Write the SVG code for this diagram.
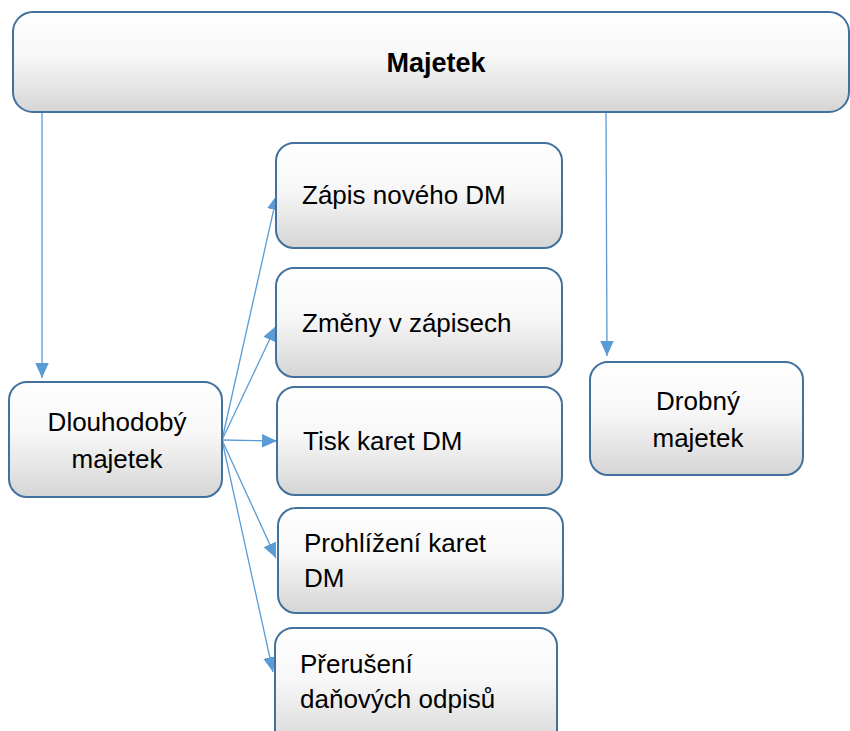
<svg xmlns="http://www.w3.org/2000/svg" width="850" height="731" viewBox="0 0 850 731">
<defs>
<linearGradient id="g" x1="0" y1="0" x2="0" y2="1">
<stop offset="0" stop-color="#ffffff"/>
<stop offset="0.45" stop-color="#f7f7f7"/>
<stop offset="1" stop-color="#d5d5d5"/>
</linearGradient>
<marker id="ah" viewBox="0 0 10 10" refX="10" refY="5" markerWidth="15" markerHeight="15" markerUnits="userSpaceOnUse" orient="auto">
<path d="M0,0.5 L10,5 L0,9.5 Z" fill="#5B9BD5"/>
</marker>
<style>
.box{fill:url(#g);stroke:#41719C;stroke-width:2}
.t{font-family:"Liberation Sans",Arial,sans-serif;font-size:26px;fill:#000}
.c{text-anchor:middle}
.b{font-weight:bold;font-size:27px}
.ln{stroke:#5B9BD5;stroke-width:1.3;fill:none;marker-end:url(#ah)}
</style>
</defs>
<rect width="850" height="731" fill="#ffffff"/>
<g id="connectors">
<line class="ln" x1="42" y1="112" x2="42" y2="378"/>
<line class="ln" x1="606" y1="112" x2="607" y2="356"/>
<line class="ln" x1="222" y1="440" x2="277" y2="195"/>
<line class="ln" x1="222" y1="440" x2="276" y2="326"/>
<line class="ln" x1="222" y1="440" x2="277" y2="441"/>
<line class="ln" x1="222" y1="440" x2="276" y2="558"/>
<line class="ln" x1="222" y1="440" x2="273" y2="672"/>
</g>
<g id="majetek">
<rect class="box" x="13" y="12" width="836" height="100" rx="20"/>
<text class="t c b" x="436" y="72">Majetek</text>
</g>
<g id="dlouhodoby">
<rect class="box" x="9" y="382" width="213" height="115" rx="18"/>
<text class="t c" x="117" y="431">Dlouhodobý</text>
<text class="t c" x="117" y="468">majetek</text>
</g>
<g id="zapis">
<rect class="box" x="276" y="143" width="286" height="105" rx="18"/>
<text class="t" x="302" y="204">Zápis nového DM</text>
</g>
<g id="zmeny">
<rect class="box" x="276" y="268" width="286" height="109" rx="18"/>
<text class="t" x="302" y="332">Změny v zápisech</text>
</g>
<g id="tisk">
<rect class="box" x="277" y="387" width="285" height="108" rx="18"/>
<text class="t" x="303" y="450">Tisk karet DM</text>
</g>
<g id="prohlizeni">
<rect class="box" x="278" y="508" width="285" height="105" rx="18"/>
<text class="t" x="304" y="552">Prohlížení karet</text>
<text class="t" x="304" y="587">DM</text>
</g>
<g id="preruseni">
<rect class="box" x="275" y="628" width="282" height="120" rx="18"/>
<text class="t" x="300" y="673">Přerušení</text>
<text class="t" x="300" y="708">daňových odpisů</text>
</g>
<g id="drobny">
<rect class="box" x="590" y="362" width="213" height="113" rx="18"/>
<text class="t c" x="698" y="410">Drobný</text>
<text class="t c" x="698" y="447">majetek</text>
</g>
</svg>
